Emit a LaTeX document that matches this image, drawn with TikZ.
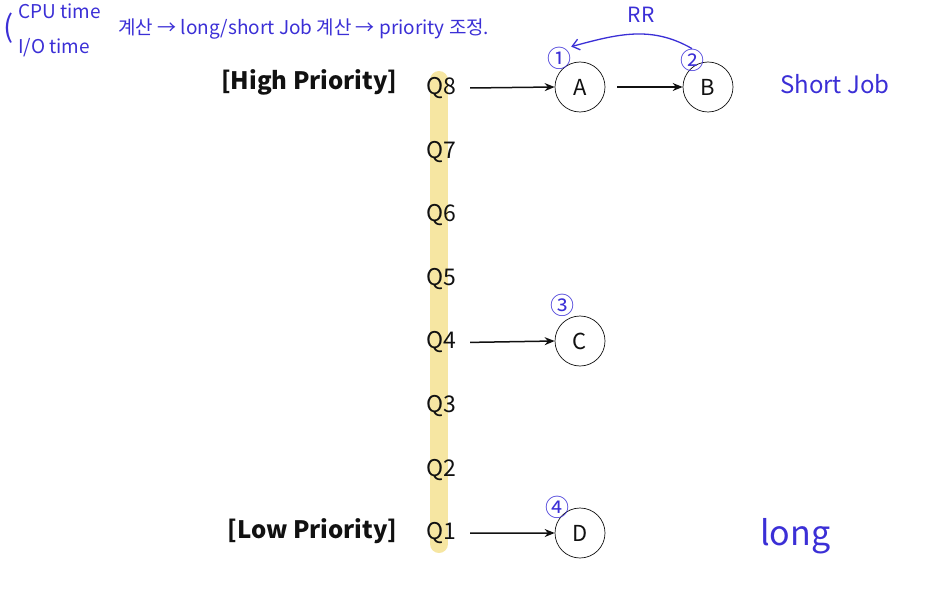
\documentclass[tikz,border=0pt]{standalone}
\usepackage{fontspec}
\setmainfont{Noto Sans CJK KR}
\usepackage{tikz}
\usetikzlibrary{arrows.meta,positioning,calc}
\definecolor{ink}{HTML}{111111}
\definecolor{pen}{HTML}{3B2FD6}
\definecolor{hilite}{HTML}{F6E6A2}
\tikzset{
  qlbl/.style  ={font=\fontsize{23}{26}\selectfont, text=ink, inner sep=1pt},
  prio/.style  ={font=\fontsize{24}{28}\selectfont\bfseries, text=ink, anchor=east},
  job/.style   ={draw=ink, circle, line width=.7pt, minimum size=50pt, inner sep=0pt,
                 font=\fontsize{22}{24}\selectfont, text=ink},
  flow/.style  ={-{Stealth[length=10pt,width=8pt]}, line width=1.5pt, draw=ink},
  hand/.style  ={text=pen, font=\fontsize{19}{22}\selectfont, inner sep=0pt},
  numtag/.style={text=pen, font=\fontsize{24}{24}\selectfont, inner sep=0pt},
  rrarc/.style ={-{Straight Barb[length=7pt,width=11pt]}, line width=1.3pt, draw=pen},
}
\begin{document}
\begin{tikzpicture}[x=1pt,y=-1pt]
  \useasboundingbox (0,0) rectangle (931,596);
  % yellow highlight behind the queues
  \coordinate (bartop) at (439,80);
  \coordinate (barbot) at (439,544);
  \draw[hilite, line width=18pt, line cap=round] (bartop) -- (barbot);
  % queue levels
  \foreach \i in {1,...,8}{
    \node[qlbl] (q\i) at (441,{88+(8-\i)*63.6}) {Q\i};
  }
  \node[prio] (high) at (401,82) {[High Priority]};
  \node[prio] (low)  at (401,531) {[Low Priority]};
  % jobs
  \node[job] (A) at (580,87) {A};
  \node[job] (B) at (708,87) {B};
  \node[job] (C) at (580,341) {C};
  \node[job] (D) at (580,533) {D};
  \draw[flow] (q8.east) ++(13,0) coordinate (s8) -- (A.west);
  \draw[flow] (A.east) ++(12,0) coordinate (sa) -- (B.west);
  \draw[flow] (q4.east) ++(13,0) coordinate (s4) -- (C.west);
  \draw[flow] (q1.east) ++(13,0) coordinate (s1) -- (D.west);
  % handwritten notes
  \node[numtag] (n1) at (559,58) {①};
  \node[numtag] (n2) at (692,60) {②};
  \node[numtag] (n3) at (562,305) {③};
  \node[numtag] (n4) at (557,507) {④};
  \node[hand, font=\fontsize{21}{22}\selectfont] (rr) at (641,15) {RR};
  \draw[rrarc] (n2.north) to[out=150,in=15] (n1.north east);
  \node[hand, anchor=west] (short) at (780,84) {\fontsize{24}{26}\selectfont Short Job};
  \node[hand, anchor=west] (long) at (760,536) {\fontsize{34}{36}\selectfont long};
  \node[hand, font=\fontsize{30}{30}\selectfont] (brace) at (9,28) {(};
  \node[hand, anchor=west] (cpu) at (18,11) {CPU time};
  \node[hand, anchor=west] (io)  at (18,48) {I/O time};
  \node[hand, anchor=west] (note) at (118,29) {계산 → long/short Job 계산 → priority 조정.};
\end{tikzpicture}
\end{document}
